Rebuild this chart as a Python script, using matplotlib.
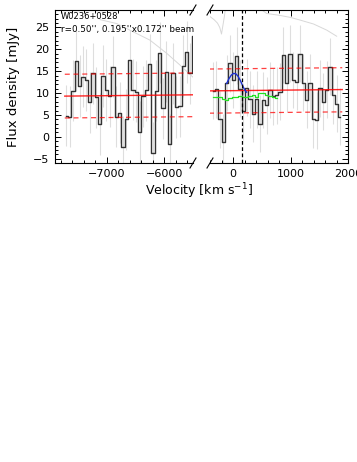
import matplotlib
matplotlib.use("Agg")
import matplotlib.pyplot as plt
import numpy as np
from matplotlib.ticker import MultipleLocator

plt.rcParams['font.family'] = ['DejaVu Sans']

# channel grid (km/s)
chan_width = 58
left_start = -7730
right_start = -374

# spectrum values (mJy)
left_flux = [4.8, 4.6, 10.5, 17.4, 11.6, 13.7, 13.0, 7.9, 14.5, 9.0, 2.9, 13.9, 10.7,
             9.3, 16.0, 4.6, 5.5, -2.3, 4.0, 17.5, 10.8, 10.3, 1.1, 9.3, 10.6, 16.6,
             -3.7, 10.5, 19.2, 6.5, 14.9, -1.7, 14.5, 6.8, 7.0, 16.2, 19.4, 14.5, 23.0]
right_flux = [10.5, 10.9, 4.0, -1.2, 12.3, 16.8, 13.0, 18.5, 11.0, 5.8, 11.2, 8.6, 5.3,
              8.6, 3.0, 8.4, 7.2, 10.7, 9.3, 9.5, 10.3, 18.7, 12.2, 19.0, 13.0, 12.6,
              19.0, 12.4, 8.5, 12.4, 4.0, 3.8, 11.1, 8.0, 10.8, 16.0, 9.5, 7.6, 4.6]
left_err = 7.0
right_err = 6.5

# continuum fit and +/- 1 sigma
cont_v = [-7730, -5500, -400, 1900]
cont_y = [9.3, 9.6, 10.5, 10.8]
cont_lo = [4.3, 4.6, 5.4, 5.7]
cont_hi = [14.3, 14.6, 15.5, 15.8]

# gaussian fit (blue) and model (green)
fit_v = [-110, -70, -30, 10, 50, 90, 130, 170, 210, 235]
fit_y = [12.2, 13.3, 14.1, 14.5, 14.4, 13.8, 12.8, 11.6, 10.6, 10.2]
model_flux = [9.0, 9.0, 9.1, 8.7, 8.5, 8.9, 9.2, 9.0, 9.3, 9.0,
              9.1, 9.4, 9.6, 9.2, 9.9, 10.1, 9.6, 9.3, 9.0, 8.9]
v_sys = 160

# atmospheric transmission trace (grey)
atm_left_v = [-7117, -6827, -6538, -6248, -5958, -5726, -5523, -5400]
atm_left_y = [26.8, 25.9, 24.0, 22.1, 19.1, 16.4, 13.9, 12.5]
atm_right_v = [-400, -330, -270, -230, -200, -175, -150, -130, np.nan,
               450, 586, 800, 1000, 1165, 1400, 1630, 1803]
atm_right_y = [27.5, 26.8, 26.0, 25.0, 23.5, 25.5, 27.5, 29.5, np.nan,
               29.5, 28.2, 27.8, 27.3, 26.7, 25.8, 24.4, 23.0]

W, H = 357, 462
fig = plt.figure(figsize=(W / 100, H / 100), dpi=100)
ax1 = fig.add_axes([55 / W, 1 - 163 / H, 138 / W, 153 / H])
ax2 = fig.add_axes([210 / W, 1 - 163 / H, 138 / W, 153 / H])

lv = left_start + chan_width / 2 + chan_width * np.arange(len(left_flux))
rv = right_start + chan_width / 2 + chan_width * np.arange(len(right_flux))
mv = right_start + chan_width / 2 + chan_width * np.arange(len(model_flux))

for ax, v, f, e in [(ax1, lv, left_flux, left_err), (ax2, rv, right_flux, right_err)]:
    f = np.array(f)
    ax.vlines(v, f - e, f + e, color='#dedede', lw=0.8, zorder=1)
    ax.step(v, f, where='mid', color='#333333', lw=1.0, zorder=3)
    ax.plot(cont_v, cont_y, color='red', lw=1.0, alpha=0.85, zorder=4)
    ax.plot(cont_v, cont_lo, color='red', lw=0.9, ls=(0, (4, 3)), alpha=0.75, zorder=4)
    ax.plot(cont_v, cont_hi, color='red', lw=0.9, ls=(0, (4, 3)), alpha=0.75, zorder=4)
    ax.set_ylim(-6, 29)
    ax.yaxis.set_major_locator(MultipleLocator(5))
    ax.yaxis.set_minor_locator(MultipleLocator(1))
    ax.xaxis.set_major_locator(MultipleLocator(1000))
    ax.xaxis.set_minor_locator(MultipleLocator(200))
    ax.tick_params(which='both', direction='in', top=True, labelsize=8, width=0.7)
    ax.tick_params(which='major', length=4, pad=4)
    ax.tick_params(which='minor', length=2)
    for s in ax.spines.values():
        s.set_linewidth(0.8)

ax1.plot(atm_left_v, atm_left_y, color='#d8d8d8', lw=0.7, zorder=2)
ax2.plot(atm_right_v, atm_right_y, color='#d8d8d8', lw=0.7, zorder=2)

ax2.step(mv, model_flux, where='mid', color='#22e022', lw=0.9, zorder=5)
ax2.plot(fit_v, fit_y, color='#1a2fd0', lw=1.0, zorder=6)
ax2.axvline(v_sys, color='k', lw=0.9, ls=(0, (3, 2)), zorder=6)

ax1.set_xlim(-7900, -5500)
ax2.set_xlim(-400, 2000)
ax1.spines['right'].set_visible(False)
ax2.spines['left'].set_visible(False)
ax1.tick_params(which='both', right=False)
ax2.tick_params(which='both', left=False, right=True, labelleft=False)

ax1.set_ylabel('Flux density [mJy]', fontsize=9.5)
ax1.yaxis.set_label_coords(-0.25, 0.5)
fig.text(199 / W, 1 - 191 / H, r'Velocity [km s$^{-1}$]', ha='center', va='center', fontsize=9)

ax1.text(0.04, 0.985, 'W0236+0528', transform=ax1.transAxes, ha='left', va='top', fontsize=6.0)
ax1.text(0.04, 0.905, "r=0.50'', 0.195''x0.172'' beam", transform=ax1.transAxes,
         ha='left', va='top', fontsize=6.3, clip_on=False)

# axis break marks
for xp in [193, 210]:
    for yp in [10, 163]:
        fig.add_artist(plt.Line2D([(xp - 3) / W, (xp + 3) / W],
                                  [1 - (yp + 5) / H, 1 - (yp - 5) / H],
                                  color='k', lw=0.8))

fig.savefig('out.png', dpi=100)
